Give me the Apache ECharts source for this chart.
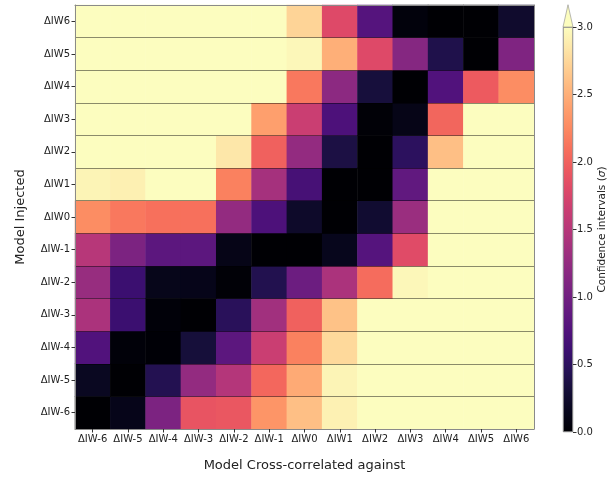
<!DOCTYPE html>
<html>
<head>
<meta charset="utf-8">
<script src="https://cdn.jsdelivr.net/npm/echarts@6/dist/echarts.min.js"></script>
<style>
  html, body { margin: 0; padding: 0; background: #fff; }
  #chart { width: 612px; height: 477px; }
</style>
</head>
<body>
<div id="chart"></div>
<script>
// Model labels, shared by both axes (x left to right, y bottom to top)
const models = ['ΔIW-6', 'ΔIW-5', 'ΔIW-4', 'ΔIW-3', 'ΔIW-2', 'ΔIW-1', 'ΔIW0',
                'ΔIW1', 'ΔIW2', 'ΔIW3', 'ΔIW4', 'ΔIW5', 'ΔIW6'];

// Confidence interval (sigma) per injected model, one value per cross-correlated model
const injIWm6 = [0.00, 0.13, 1.08, 1.90, 1.92, 2.33, 2.60, 2.92, 3.00, 3.00, 3.00, 3.00, 3.00];
const injIWm5 = [0.18, 0.00, 0.43, 1.25, 1.48, 2.04, 2.47, 2.94, 3.00, 3.00, 3.00, 3.00, 3.00];
const injIWm4 = [0.75, 0.03, 0.01, 0.32, 0.84, 1.65, 2.20, 2.76, 3.00, 3.00, 3.00, 3.00, 3.00];
const injIWm3 = [1.42, 0.60, 0.03, 0.00, 0.48, 1.35, 2.00, 2.62, 3.00, 3.00, 3.00, 3.00, 3.00];
const injIWm2 = [1.28, 0.60, 0.14, 0.13, 0.02, 0.42, 0.96, 1.42, 2.07, 2.96, 3.00, 3.00, 3.00];
const injIWm1 = [1.50, 1.08, 0.84, 0.84, 0.12, 0.00, 0.00, 0.15, 0.78, 1.82, 3.00, 3.00, 3.00];
const injIW0  = [2.28, 2.15, 2.10, 2.10, 1.25, 0.72, 0.23, 0.00, 0.27, 1.30, 3.00, 3.00, 3.00];
const injIW1  = [2.94, 2.91, 3.00, 3.00, 2.20, 1.38, 0.68, 0.00, 0.00, 0.88, 3.00, 3.00, 3.00];
const injIW2  = [3.00, 3.00, 3.00, 3.00, 2.85, 2.00, 1.25, 0.37, 0.00, 0.50, 2.60, 3.00, 3.00];
const injIW3  = [3.00, 3.00, 3.00, 3.00, 3.00, 2.40, 1.65, 0.72, 0.02, 0.12, 2.03, 3.00, 3.00];
const injIW4  = [3.00, 3.00, 3.00, 3.00, 3.00, 3.00, 2.15, 1.20, 0.33, 0.00, 0.75, 1.95, 2.28];
const injIW5  = [3.00, 3.00, 3.00, 3.00, 3.00, 3.00, 2.96, 2.50, 1.80, 1.15, 0.40, 0.00, 1.10];
const injIW6  = [3.00, 3.00, 3.00, 3.00, 3.00, 3.00, 2.73, 1.80, 0.78, 0.05, 0.00, 0.00, 0.25];

// Colour bar ticks
const cbarMin = 0;
const cbarMax = 3;
const cbarStep = 0.5;

// Rows in y order (bottom to top)
const rows = [injIWm6, injIWm5, injIWm4, injIWm3, injIWm2, injIWm1, injIW0,
              injIW1, injIW2, injIW3, injIW4, injIW5, injIW6];

const cells = [];
rows.forEach((row, yi) => row.forEach((v, xi) => cells.push([xi, yi, v])));

// magma colour map
const magma = ['#000004', '#07061c', '#140e36', '#251255', '#3b0f70', '#51127c',
               '#641a80', '#782281', '#8c2981', '#a1307e', '#b73779', '#ca3e72',
               '#de4968', '#ed5a5f', '#f7705c', '#fc8961', '#fe9f6d', '#feb77e',
               '#fecf92', '#fde7a9', '#fcfdbf'];

const gradStops = magma.map((c, i) => ({ offset: i / (magma.length - 1), color: c }));

const font = 'DejaVu Sans';
const frameColor = '#8a8a8a';
const rowLine = 'rgba(0,0,0,0.45)';

const chart = echarts.init(document.getElementById('chart'), null, { renderer: 'canvas' });

const option = {
  backgroundColor: '#fff',
  animation: false,
  textStyle: { fontFamily: font },
  grid: [
    { left: 75, top: 5, width: 459, height: 427 },
    { left: 563, top: 27, width: 10, height: 405 }
  ],
  xAxis: [
    {
      gridIndex: 0, type: 'category', data: models, position: 'bottom', z: 10,
      axisLine: { show: true, lineStyle: { color: frameColor, width: 1 } },
      axisTick: { show: true, alignWithLabel: true, interval: 0, length: 3.5, lineStyle: { color: '#333' } },
      axisLabel: { color: '#222', fontSize: 10, fontFamily: font, margin: 5, interval: 0 },
      splitLine: { show: false },
      name: 'Model Cross-correlated against', nameLocation: 'middle', nameGap: 30,
      nameTextStyle: { color: '#222', fontSize: 13, fontFamily: font }
    },
    {
      gridIndex: 0, type: 'category', data: models, position: 'top', z: 10,
      axisLine: { show: true, lineStyle: { color: frameColor, width: 1 } },
      axisTick: { show: false }, axisLabel: { show: false }, splitLine: { show: false }
    },
    {
      gridIndex: 1, type: 'category', data: [''], show: false
    }
  ],
  yAxis: [
    {
      gridIndex: 0, type: 'category', data: models, position: 'left', z: 10,
      axisLine: { show: true, lineStyle: { color: frameColor, width: 1 } },
      axisTick: { show: true, alignWithLabel: true, interval: 0, length: 3.5, lineStyle: { color: '#333' } },
      axisLabel: { color: '#222', fontSize: 10, fontFamily: font, margin: 5, interval: 0 },
      splitLine: { show: false },
      name: 'Model Injected', nameLocation: 'middle', nameGap: 48, nameRotate: 90,
      nameTextStyle: { color: '#222', fontSize: 13, fontFamily: font }
    },
    {
      // row separators drawn over the cells
      gridIndex: 0, type: 'category', data: models, position: 'right', z: 10,
      axisLine: { show: true, lineStyle: { color: frameColor, width: 1 } },
      axisTick: { show: false }, axisLabel: { show: false },
      splitLine: { show: true, interval: 0, lineStyle: { color: rowLine, width: 1.2 } }
    },
    {
      gridIndex: 1, type: 'value', min: cbarMin, max: cbarMax, interval: cbarStep,
      position: 'right', z: 10,
      axisLine: { show: false },
      axisTick: { show: true, length: 3.5, lineStyle: { color: '#333' } },
      axisLabel: { color: '#222', fontSize: 10, fontFamily: font, margin: 4,
                   formatter: v => v.toFixed(1) },
      splitLine: { show: false },
      name: 'Confidence intervals ({i|σ})', nameLocation: 'middle', nameRotate: 90, nameGap: 21,
      nameTextStyle: { color: '#222', fontSize: 10.5, fontFamily: font,
                       rich: { i: { fontStyle: 'italic', fontSize: 10.5, fontFamily: font, color: '#222' } } }
    }
  ],
  visualMap: {
    type: 'continuous', show: false, seriesIndex: 0, dimension: 2,
    min: cbarMin, max: cbarMax,
    inRange: { color: magma },
    outOfRange: { color: '#fcfdbf' }
  },
  series: [
    {
      type: 'heatmap', xAxisIndex: 0, yAxisIndex: 0, data: cells,
      itemStyle: { borderWidth: 0 }, emphasis: { disabled: true }, progressive: 0
    },
    {
      // colour bar body
      type: 'bar', xAxisIndex: 2, yAxisIndex: 2, data: [cbarMax], barWidth: '100%',
      silent: true,
      itemStyle: {
        color: new echarts.graphic.LinearGradient(0, 1, 0, 0, gradStops),
        borderColor: frameColor, borderWidth: 0.6
      }
    }
  ]
};

chart.setOption(option);

// extension arrow on top of the colour bar
const cbTop = chart.convertToPixel({ xAxisIndex: 2, yAxisIndex: 2 }, [0, cbarMax]);
const cbBottom = chart.convertToPixel({ xAxisIndex: 2, yAxisIndex: 2 }, [0, cbarMin]);
const barLeft = 563, barRight = 573;
const arrowH = (cbBottom[1] - cbTop[1]) * 0.055;
chart.setOption({
  graphic: [{
    type: 'polygon', z: 20, silent: true,
    shape: { points: [[barLeft, cbTop[1]], [barRight, cbTop[1]], [(barLeft + barRight) / 2, cbTop[1] - arrowH]] },
    style: { fill: '#fcfdbf', stroke: frameColor, lineWidth: 0.6 }
  }]
});
</script>
</body>
</html>
